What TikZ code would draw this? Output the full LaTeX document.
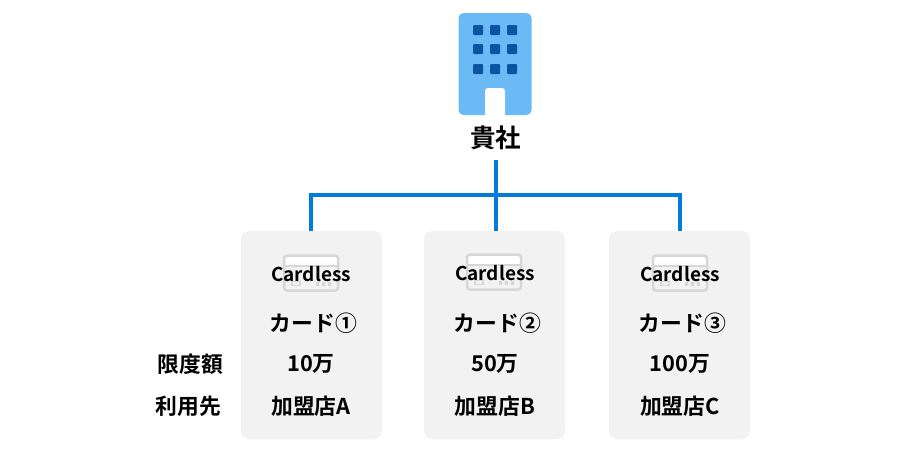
\documentclass[tikz,border=0pt]{standalone}
\usepackage{xcolor}
\usepackage{fontspec}
\setmainfont{Noto Sans CJK JP}[BoldFont={* Bold}]
\definecolor{linecolor}{RGB}{0, 125, 220}
\definecolor{panelcolor}{RGB}{242, 242, 242}
\definecolor{towercolor}{RGB}{107, 185, 245}
\definecolor{windowcolor}{RGB}{12, 83, 160}
\definecolor{cardcolor}{RGB}{215, 215, 215}
\tikzset{
    panel/.style={fill=panelcolor, rounded corners=8pt},
    txt/.style={font=\bfseries\fontsize{21.8pt}{24pt}\selectfont, inner sep=0pt, text=black},
    cardtxt/.style={txt, font=\bfseries\fontsize{19pt}{22pt}\selectfont},
    wire/.style={draw=linecolor, line width=4pt},
    window/.style={fill=windowcolor, rounded corners=1pt}
}
\begin{document}
\begin{tikzpicture}[x=1pt, y=-1pt]
    \useasboundingbox (0,0) rectangle (913,450);

    % Building
    \fill[towercolor, rounded corners=5pt] (458.5,13) rectangle (531.5,115);
    \foreach \x in {473,490,507}
        \foreach \y in {25,44,64}
            \fill[window] (\x,\y) rectangle ++(10,10);
    \fill[white, rounded corners=3pt] (485,88) rectangle (505,125);
    \fill[white] (485,105) rectangle (505,115);
    \node[txt, font=\bfseries\fontsize{25.5pt}{28pt}\selectfont] (company) at (495.5,138) {貴社};

    % Panels
    \fill[panel] (241,231) rectangle (382,439);
    \fill[panel] (424,231) rectangle (565,439);
    \fill[panel] (609,231) rectangle (750,439);
    \coordinate (paneltopA) at (311,231);
    \coordinate (paneltopB) at (496,231);
    \coordinate (paneltopC) at (680,231);
    \coordinate (branch) at (496,195);
    \coordinate (stem) at (496,160);

    % Connectors
    \draw[wire] (stem) -- (paneltopB);
    \draw[wire] (paneltopA) |- (branch) -| (paneltopC);

    % Card icons
    \foreach \x/\y in {284/255.5, 467/254.5, 653/255.5} {
        \fill[white, rounded corners=2pt] (\x,\y) rectangle ++(54,10);
        \draw[cardcolor, line width=2.5pt, rounded corners=3pt] (\x,\y) rectangle ++(54,35);
        \draw[cardcolor, line width=1.5pt] (\x,\y+10.5) -- ++(54,0);
        \draw[cardcolor, line width=1.5pt] (\x+8,\y+26) rectangle ++(8,4);
        \foreach \d in {32,38,44}
            \fill[cardcolor] (\x+\d,\y+26) rectangle ++(3,4);
    }

    % Row labels
    \node[txt] (limitlabel) at (190.5,364) {限度額};
    \node[txt] (shoplabel) at (188.5,406) {利用先};

    % Panel labels
    \foreach \x/\ya/\card/\lim/\shop in {311/274/カード①/10万/加盟店A, 495/273/カード②/50万/加盟店B, 680/274/カード③/100万/加盟店C} {
        \node[cardtxt] at (\x,\ya) {Cardless};
        \node[txt] at (\x+2.5,323) {\card};
        \node[txt] at (\x,364) {\lim};
        \node[txt] at (\x,406) {\shop};
    }
\end{tikzpicture}
\end{document}
